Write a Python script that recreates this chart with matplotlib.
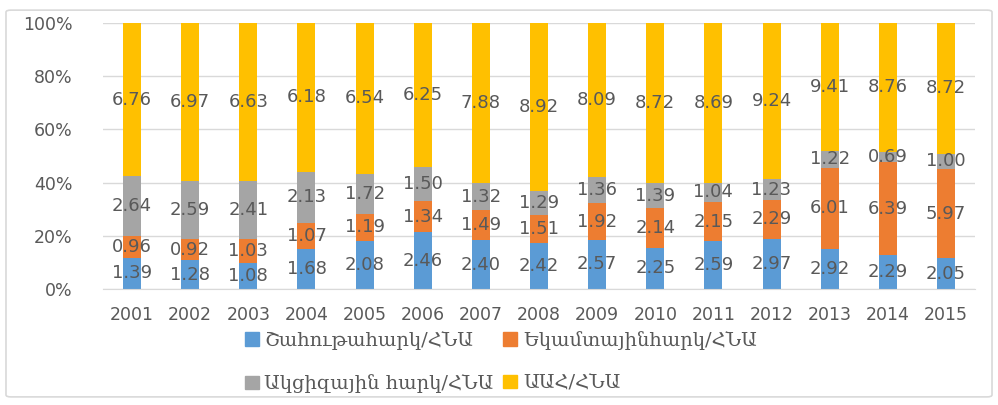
import matplotlib.pyplot as plt
from matplotlib.patches import FancyBboxPatch, Patch
import numpy as np

years = [str(y) for y in range(2001, 2016)]
profit_tax = [1.39, 1.28, 1.08, 1.68, 2.08, 2.46, 2.40, 2.42, 2.57, 2.25, 2.59, 2.97, 2.92, 2.29, 2.05]
income_tax = [0.96, 0.92, 1.03, 1.07, 1.19, 1.34, 1.49, 1.51, 1.92, 2.14, 2.15, 2.29, 6.01, 6.39, 5.97]
excise_tax = [2.64, 2.59, 2.41, 2.13, 1.72, 1.50, 1.32, 1.29, 1.36, 1.39, 1.04, 1.23, 1.22, 0.69, 1.00]
vat = [6.76, 6.97, 6.63, 6.18, 6.54, 6.25, 7.88, 8.92, 8.09, 8.72, 8.69, 9.24, 9.41, 8.76, 8.72]

names = ["Շահութահարկ/ՀՆԱ", "Եկամտայինհարկ/ՀՆԱ", "Ակցիզային հարկ/ՀՆԱ", "ԱԱՀ/ՀՆԱ"]
colors = ["#5B9BD5", "#ED7D31", "#A5A5A5", "#FFC000"]
text_col = "#595959"

series = np.array([profit_tax, income_tax, excise_tax, vat])
shares = series / series.sum(axis=0) * 100

fig = plt.figure(figsize=(9.98, 4.05), dpi=100)
# outer chart border
fig.patches.append(FancyBboxPatch((0.006, 0.02), 0.988, 0.955, boxstyle="round,pad=0,rounding_size=0.005",
                                  transform=fig.transFigure, fill=False, edgecolor="#D9D9D9", lw=1.2))

ax = fig.add_axes([103 / 998, 1 - 289 / 405, 872 / 998, 266 / 405])
x = np.arange(len(years))
bottom = np.zeros(len(years))
for vals, sh, c in zip(series, shares, colors):
    ax.bar(x, sh, width=0.31, bottom=bottom, color=c, zorder=2)
    for xi, b, s, v in zip(x, bottom, sh, vals):
        ax.text(xi, b + s / 2, f"{v:.2f}", ha="center", va="center",
                fontsize=13, color=text_col, zorder=3)
    bottom += sh

ax.set_xlim(-0.5, len(years) - 0.5)
ax.set_ylim(0, 100)
ax.set_yticks(range(0, 101, 20))
ax.set_yticklabels([f"{v}%" for v in range(0, 101, 20)])
ax.set_xticks(x)
ax.set_xticklabels(years)
ax.tick_params(length=0, labelsize=12.5, labelcolor=text_col)
ax.tick_params(axis="y", pad=22)
ax.tick_params(axis="x", pad=12)
ax.grid(axis="y", color="#D9D9D9", lw=1, zorder=0)
for s in ax.spines.values():
    s.set_visible(False)
ax.spines["bottom"].set_visible(True)
ax.spines["bottom"].set_color("#D9D9D9")

# legend fills column-wise, so reorder to get row-wise layout
order = [0, 2, 1, 3]
handles = [Patch(color=colors[i]) for i in order]
labels = [names[i] for i in order]
fig.legend(handles, labels, ncol=2, loc="upper left", bbox_to_anchor=(0.228, 0.226),
           frameon=False, prop={"family": "DejaVu Serif", "size": 14},
           labelcolor=text_col, handlelength=0.7, handleheight=0.7, handletextpad=0.3,
           columnspacing=0.5, labelspacing=1.25)

fig.savefig("out.png", dpi=100)
